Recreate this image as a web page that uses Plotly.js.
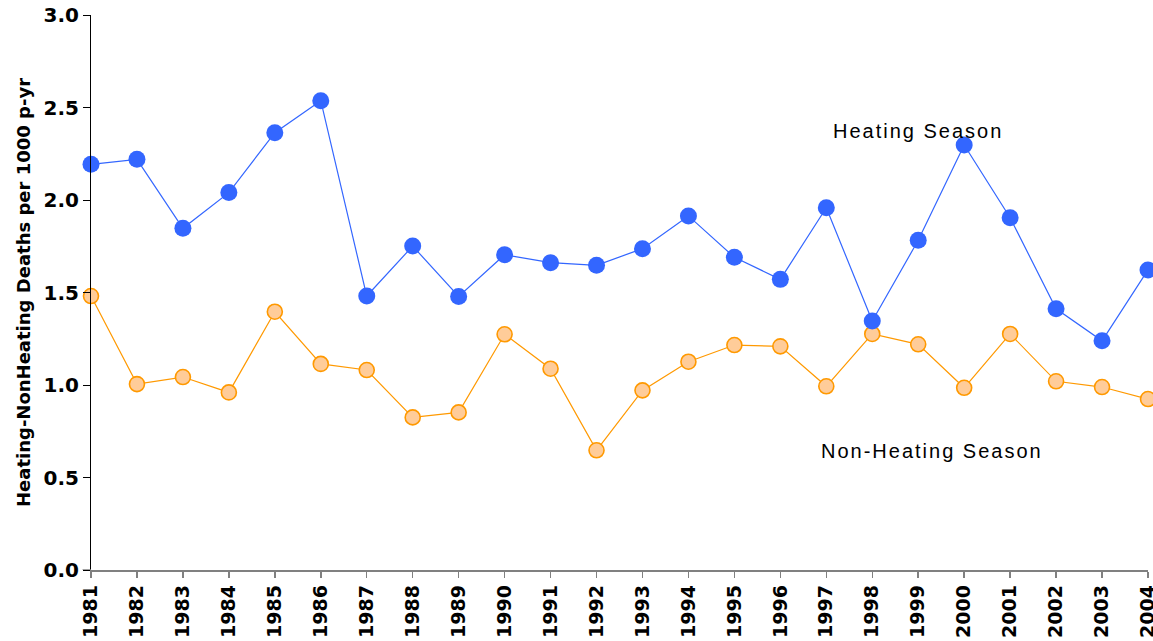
<!DOCTYPE html>
<html>
<head>
<meta charset="utf-8">
<script src="https://cdn.plot.ly/plotly-3.0.1.min.js"></script>
<style>
  html, body { margin: 0; padding: 0; background: #fff; }
  #chart { width: 1153px; height: 641px; }
  #chart .annotation-text { letter-spacing: 2px; }
</style>
</head>
<body>
<div id="chart"></div>
<script>
const years = [1981,1982,1983,1984,1985,1986,1987,1988,1989,1990,1991,1992,1993,1994,1995,1996,1997,1998,1999,2000,2001,2002,2003,2004];
const heating = [2.193,2.220,1.847,2.040,2.364,2.537,1.481,1.751,1.479,1.704,1.661,1.647,1.737,1.914,1.690,1.571,1.958,1.346,1.782,2.297,1.904,1.412,1.239,1.622];
const nonHeating = [1.481,1.005,1.043,0.960,1.396,1.114,1.081,0.825,0.852,1.274,1.088,0.647,0.971,1.126,1.216,1.209,0.993,1.276,1.220,0.985,1.276,1.020,0.989,0.924];
const yTicks = [0,0.5,1,1.5,2,2.5,3];
const yTickText = ['0.0','0.5','1.0','1.5','2.0','2.5','3.0'];

const boldFont = 'DejaVu Sans, Liberation Sans, Arial, sans-serif';

const traces = [
  {
    x: years, y: nonHeating, type: 'scatter', mode: 'lines+markers', name: 'Non-Heating Season',
    line: {color: '#FF9900', width: 1.2},
    marker: {color: '#FFCC99', size: 15, line: {color: '#FF9900', width: 1.6}},
    cliponaxis: false
  },
  {
    x: years, y: heating, type: 'scatter', mode: 'lines+markers', name: 'Heating Season',
    line: {color: '#3366FF', width: 1.2},
    marker: {color: '#3366FF', size: 17, line: {width: 0}},
    cliponaxis: false
  }
];

const layout = {
  width: 1153, height: 641,
  margin: {l: 91, r: 5, t: 15, b: 71},
  paper_bgcolor: '#fff', plot_bgcolor: '#fff',
  showlegend: false,
  font: {family: 'Liberation Sans, Arial, sans-serif', color: '#000'},
  xaxis: {
    range: [1981, 2004.0001],
    tickmode: 'array', tickvals: years, ticktext: years.map(String),
    tickangle: -90,
    ticklabeloverflow: 'allow',
    tickfont: {size: 19, family: boldFont, weight: 'bold'},
    showgrid: false, zeroline: false,
    showline: true, linecolor: '#808080', linewidth: 1.5,
    ticks: 'outside', ticklen: 6, tickcolor: '#808080', tickwidth: 1.5
  },
  yaxis: {
    range: [0, 3],
    tickmode: 'array', tickvals: yTicks, ticktext: yTickText,
    tickfont: {size: 20, family: boldFont, weight: 'bold'},
    showgrid: false, zeroline: false,
    showline: true, linecolor: '#000', linewidth: 1,
    ticks: 'outside', ticklen: 7, tickcolor: '#000', tickwidth: 1,
    title: {text: 'Heating-NonHeating Deaths per 1000 p-yr', font: {size: 18, family: boldFont, weight: 'bold'}, standoff: 8}
  },
  shapes: [
    {type: 'line', xref: 'paper', yref: 'y', x0: -0.008, x1: 0, y0: 0, y1: 0,
     line: {color: '#808080', width: 1.5}}
  ],
  annotations: [
    {x: 1999.0, y: 2.373, xref: 'x', yref: 'y', text: 'Heating Season', showarrow: false,
     font: {size: 20, color: '#000'}},
    {x: 1999.3, y: 0.643, xref: 'x', yref: 'y', text: 'Non-Heating Season', showarrow: false,
     font: {size: 20, color: '#000'}}
  ]
};

Plotly.newPlot('chart', traces, layout, {displayModeBar: false, staticPlot: true});
</script>
</body>
</html>
